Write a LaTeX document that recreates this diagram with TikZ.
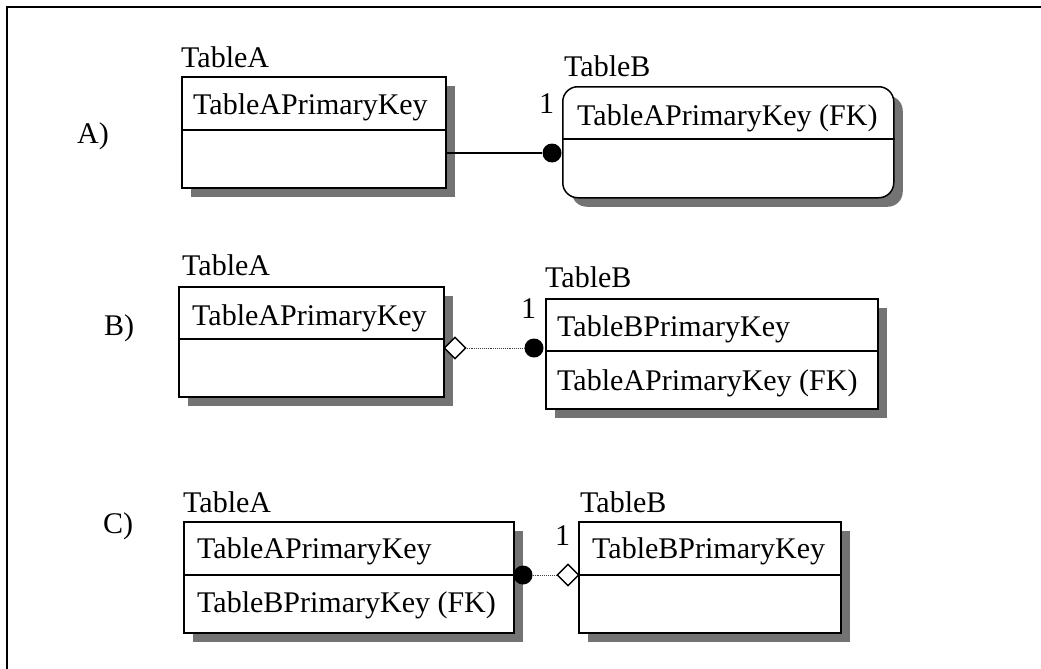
\documentclass[tikz,border=0pt]{standalone}
\usepackage{fontspec}
\setmainfont{Liberation Serif}
\usetikzlibrary{shadows,shapes.geometric}

\begin{document}
\begin{tikzpicture}[x=1pt,y=-1pt,
  every node/.style={font=\fontsize{30}{34}\selectfont},
  tbl/.style={draw, line width=1.5pt, fill=white, inner sep=0pt, anchor=north west,
    drop shadow={shadow xshift=9pt, shadow yshift=-9pt, fill=black!55, opacity=1}},
  lbl/.style={anchor=base west, inner sep=0pt},
  rule/.style={line width=1.5pt},
  dot/.style={circle, fill=black, inner sep=0pt, minimum size=19pt},
  dia/.style={diamond, draw, fill=white, line width=1.4pt, inner sep=0pt,
    minimum width=22pt, minimum height=22pt},
  solidlink/.style={line width=1.3pt},
  dottedlink/.style={line width=0.9pt, densely dotted, black!75}
]
\useasboundingbox (0,0) rectangle (1041,669);

% outer frame (left and top edges)
\draw[line width=2pt] (7,669) -- (7,7) -- (1041,7);

% ---------- case A ----------
\node[lbl] (lA) at (77,143) {A)};
\node[tbl, minimum width=264pt, minimum height=111pt] (aA) at (181,76) {};
\draw[rule] (aA.west |- 0,130) -- (aA.east |- 0,130);
\node[lbl] (aAname) at (181,67) {TableA};
\node[lbl] (aAkey) at (193,114) {TableAPrimaryKey};

\node[tbl, rounded corners=15pt, minimum width=331pt, minimum height=111pt] (aB) at (562,86) {};
\draw[rule] (aB.west |- 0,139) -- (aB.east |- 0,139);
\node[lbl] (aBname) at (564,77) {TableB};
\node[lbl] (aBkey) at (577,125) {TableAPrimaryKey (FK)};
\node[lbl] (aOne) at (539,113) {1};

\node[dot] (aDot) at (552,153) {};
\draw[solidlink] (aA.east |- aDot) -- (aDot);

% ---------- case B ----------
\node[lbl] (lB) at (104,335) {B)};
\node[tbl, minimum width=265pt, minimum height=110pt] (bA) at (178,286) {};
\draw[rule] (bA.west |- 0,339) -- (bA.east |- 0,339);
\node[lbl] (bAname) at (182,275) {TableA};
\node[lbl] (bAkey) at (192,325) {TableAPrimaryKey};

\node[tbl, minimum width=332pt, minimum height=110pt] (bB) at (545,298) {};
\draw[rule] (bB.west |- 0,351) -- (bB.east |- 0,351);
\node[lbl] (bBname) at (545,287) {TableB};
\node[lbl] (bBkey) at (557,336) {TableBPrimaryKey};
\node[lbl] (bBfk) at (557,390) {TableAPrimaryKey (FK)};
\node[lbl] (bOne) at (521,318) {1};

\node[dia] (bDia) at (455,348) {};
\node[dot] (bDot) at (534,348) {};
\draw[dottedlink] (bDia) -- (bDot);

% ---------- case C ----------
\node[lbl] (lC) at (103,533) {C)};
\node[tbl, minimum width=330pt, minimum height=111pt] (cA) at (183,521) {};
\draw[rule] (cA.west |- 0,575) -- (cA.east |- 0,575);
\node[lbl] (cAname) at (183,512) {TableA};
\node[lbl] (cAkey) at (197,558) {TableAPrimaryKey};
\node[lbl] (cAfk) at (197,612) {TableBPrimaryKey (FK)};

\node[tbl, minimum width=262pt, minimum height=111pt] (cB) at (578,521) {};
\draw[rule] (cB.west |- 0,575) -- (cB.east |- 0,575);
\node[lbl] (cBname) at (580,512) {TableB};
\node[lbl] (cBkey) at (592,558) {TableBPrimaryKey};
\node[lbl] (cOne) at (555,545) {1};

\node[dot] (cDot) at (523,575) {};
\node[dia] (cDia) at (568,575) {};
\draw[dottedlink] (cDot) -- (cDia);
\end{tikzpicture}
\end{document}
